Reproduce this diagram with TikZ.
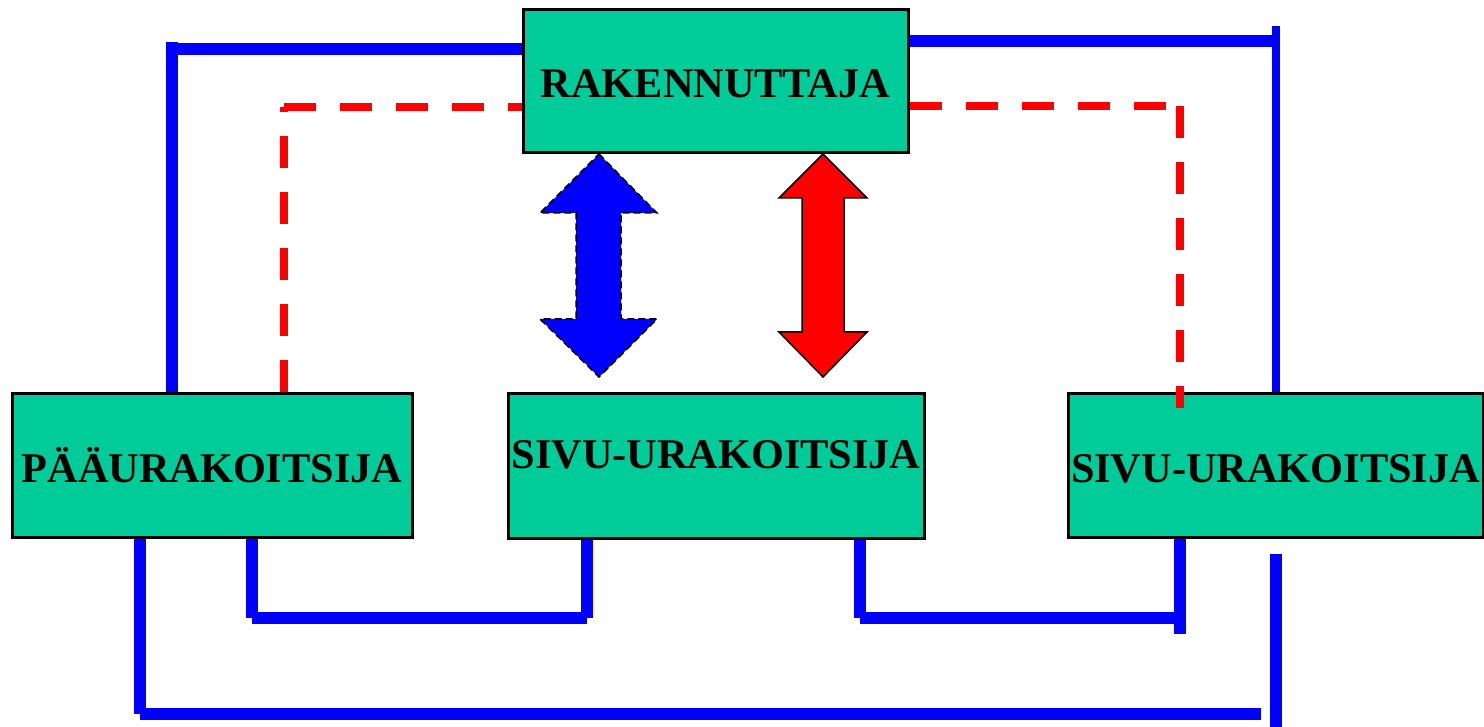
\documentclass[tikz,border=0pt]{standalone}
\usepackage{fontspec}
\setmainfont{Liberation Serif}
\usetikzlibrary{calc}
\definecolor{boxgreen}{RGB}{0,204,153}
\begin{document}
\begin{tikzpicture}[x=1pt,y=-1pt,
  box/.style={draw=black, line width=3pt, fill=boxgreen, inner sep=0pt,
    text height=33pt, text depth=0pt,
    font=\fontsize{42.3}{48}\selectfont\bfseries},
  bl/.style={draw=blue, line width=12pt},
  blthin/.style={draw=blue, line width=8pt},
  rd/.style={draw=red, line width=8pt, dash pattern=on 32pt off 24pt},
  bluearrow/.style={fill=blue, draw=black, line width=1.5pt, dash pattern=on 7pt off 4pt, line join=miter},
  redarrow/.style={fill=red, draw=black, line width=1.5pt, line join=miter}]
\useasboundingbox (0,0) rectangle (1484,727);
\fill[white] (0,0) rectangle (1484,727);

% boxes
\node[box, minimum width=385pt, minimum height=143pt] (rak) at (715.5,81.5) {RAKENNUTTAJA};
\node[box, minimum width=400pt, minimum height=143pt] (pa) at (212,465.5) {PÄÄURAKOITSIJA};
\node[box, minimum width=416pt, minimum height=144pt, text depth=29pt] (s1) at (716,466) {SIVU-URAKOITSIJA};
\node[box, minimum width=415pt, minimum height=144pt] (s2) at (1275.5,465.5) {SIVU-URAKOITSIJA};

% routing points
\coordinate (tl) at (172,42);
\coordinate (tlh) at (172,49);
\coordinate (trh) at (1272,41.5);
\coordinate (trv) at (1276,26);
\coordinate (b1l) at (252,618);
\coordinate (b1r) at (587,618);
\coordinate (b2l) at (860,618);
\coordinate (b2r) at (1180,618);
\coordinate (b2re) at (1180,634);
\coordinate (bl) at (140,714);
\coordinate (blr) at (1261,714);
\coordinate (brt) at (1276,554);
\coordinate (brb) at (1276,727);
\coordinate (rl) at (284,107);
\coordinate (rr) at (1180,106);
\coordinate (rre) at ($(s2.north -| rr)+(0,16)$);

% blue connectors
\draw[bl] (pa.north -| tl) -- (tl);
\draw[bl] (tlh) -- (rak.west |- tlh);
\draw[bl] (rak.east |- trh) -- (trh);
\draw[blthin] (trv) -- (s2.north -| trv);
\draw[bl] (pa.south -| b1l) -- (b1l);
\draw[bl] (b1l) -- (b1r);
\draw[bl] (s1.south -| b1r) -- (b1r);
\draw[bl] (s1.south -| b2l) -- (b2l);
\draw[bl] (b2l) -- (b2r);
\draw[bl] (s2.south -| b2re) -- (b2re);
\draw[bl] (pa.south -| bl) -- (bl);
\draw[bl] (bl) -- (blr);
\draw[bl] (brt) -- (brb);

% red dashed connectors
\draw[rd] (pa.north -| rl) -- (rl);
\draw[rd] (rl) -- (rak.west |- rl);
\draw[rd] (rak.east |- rr) -- (rr);
\draw[rd] (rr) -- (rre);

% double arrows
\draw[bluearrow] (599,154) -- (657,213) -- (621,213) -- (621,319) -- (657,319) -- (599,377)
  -- (540,319) -- (576,319) -- (576,213) -- (540,213) -- cycle;
\draw[redarrow] (823,154) -- (867,198) -- (844,198) -- (844,332) -- (867,332) -- (823,377)
  -- (779,332) -- (802,332) -- (802,198) -- (779,198) -- cycle;
\end{tikzpicture}
\end{document}
